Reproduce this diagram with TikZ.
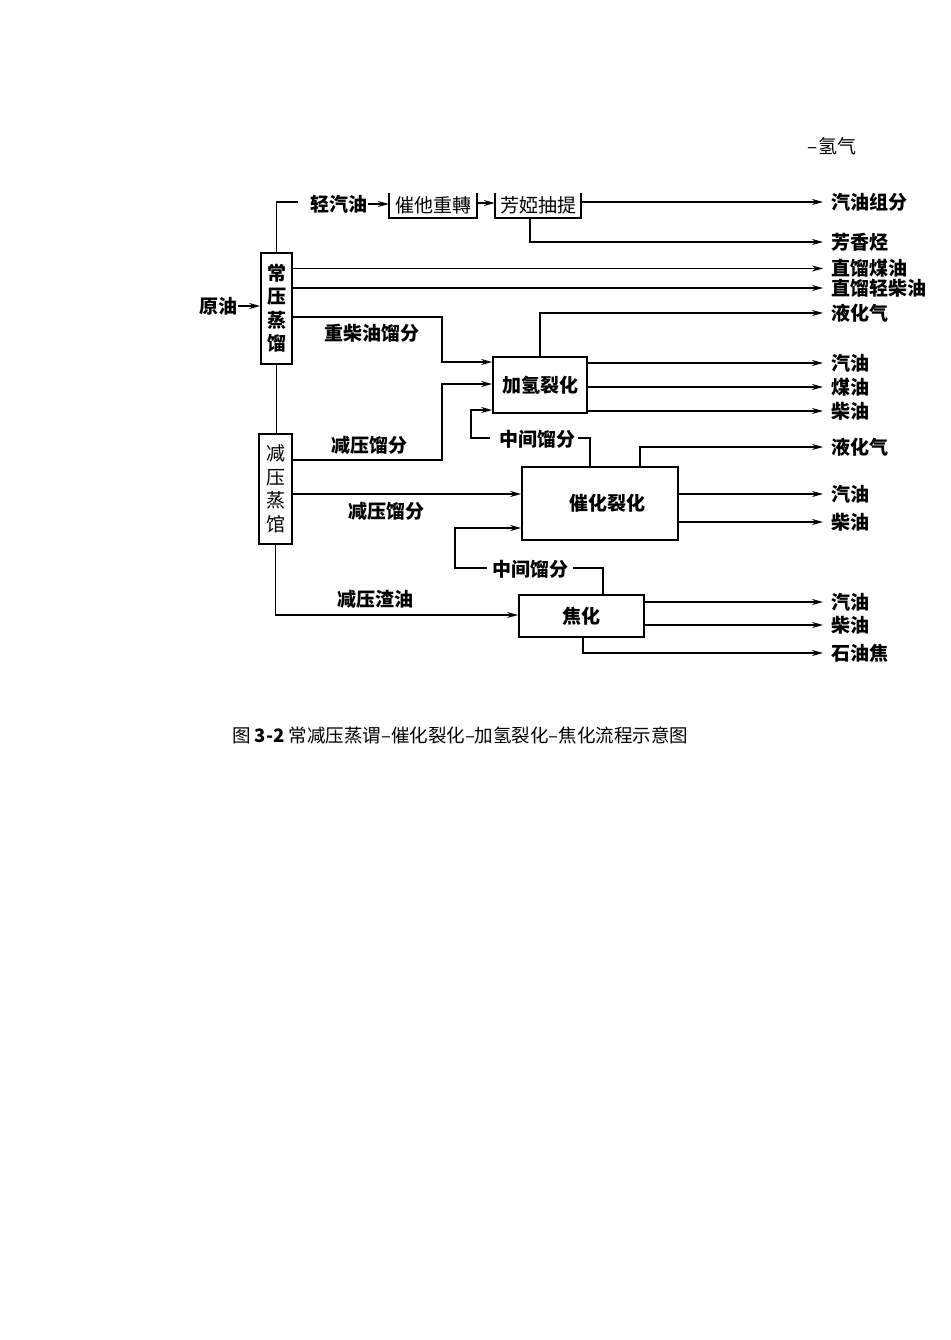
\documentclass[tikz,border=0pt]{standalone}
\usepackage{fontspec}
\setmainfont{Noto Sans CJK SC}
\usetikzlibrary{arrows.meta}
\tikzset{
  conn/.style={line width=1.5pt},
  arr/.style={conn,-{Stealth[length=11pt,width=6pt]}},
  unit/.style={draw,line width=1.7pt,inner sep=0pt,font=\fontsize{19}{23.5}\selectfont\bfseries,align=center},
  unitn/.style={unit,font=\fontsize{19}{23.5}\selectfont},
  openbox/.style={inner sep=0pt,font=\fontsize{19}{23}\selectfont},
  lbl/.style={inner sep=0pt,font=\fontsize{19}{23}\selectfont\bfseries},
  outl/.style={lbl,anchor=west,inner xsep=8pt}
}
\begin{document}
\begin{tikzpicture}[x=1pt,y=-1pt]
\useasboundingbox[fill=white] (0,0) rectangle (950,1340);

% units
\node[unit,minimum width=31pt,minimum height=111pt] (cdu) at (276.5,308.5) {常\\压\\蒸\\馏};
\node[unitn,minimum width=33pt,minimum height=110pt] (vdu) at (275.5,489) {减\\压\\蒸\\馆};
\node[openbox,minimum width=88pt,minimum height=25pt] (ref) at (433,205.5) {催他重轉};
\node[openbox,minimum width=86pt,minimum height=25pt] (aro) at (538,205.5) {芳婭抽提};
\draw[line width=1.7pt] (ref.north west) -- (ref.south west) -- (ref.south east) -- (ref.north east);
\draw[line width=1.7pt] (aro.north west) -- (aro.south west) -- (aro.south east) -- (aro.north east);
\node[unit,minimum width=94pt,minimum height=56pt] (hc) at (540,385) {加氢裂化};
\node[unit,minimum width=156pt,minimum height=73pt] (fcc) at (600,503.5) {\hspace*{14pt}催化裂化};
\node[unit,minimum width=125pt,minimum height=42pt] (coke) at (581.5,616) {焦化};

% free labels
\node[lbl,anchor=east] (crude) at (238,306) {原油};
\node[lbl] (lgas) at (339,204) {轻汽油};
\node[lbl] (hdl) at (372,333) {重柴油馏分};
\node[lbl] (vd1) at (369,445) {减压馏分};
\node[lbl] (vd2) at (386,511) {减压馏分};
\node[lbl] (vr) at (375,599) {减压渣油};
\node[lbl] (mid1) at (537.5,439) {中间馏分};
\node[lbl] (mid2) at (530,569) {中间馏分};
\node[inner sep=0pt,font=\fontsize{19}{23}\selectfont] (h2) at (832,146) {–氢气};

% outputs
\node[outl] (o1) at (823,202) {汽油组分};
\node[outl] (o2) at (823,242) {芳香烃};
\node[outl] (o3) at (823,268.5) {直馏煤油};
\node[outl] (o4) at (823,288) {直馏轻柴油};
\node[outl] (o5) at (823,313) {液化气};
\node[outl] (o6) at (823,363) {汽油};
\node[outl] (o7) at (823,387) {煤油};
\node[outl] (o8) at (823,411) {柴油};
\node[outl] (o9) at (823,447) {液化气};
\node[outl] (o10) at (823,494) {汽油};
\node[outl] (o11) at (823,522) {柴油};
\node[outl] (o12) at (823,602) {汽油};
\node[outl] (o13) at (823,625) {柴油};
\node[outl] (o14) at (823,653) {石油焦};

% coordinates
\coordinate (lgL) at (298,202);
\coordinate (j1) at (442,362);
\coordinate (j2) at (442,384);
\coordinate (m1r) at (578,438);
\coordinate (m1l) at (490,438);
\coordinate (j3) at (471,410);
\coordinate (m2r) at (573,568);
\coordinate (m2l) at (487,568);
\coordinate (j4) at (455,528);

% connectors
\draw[arr] (crude.east) -- (crude.east -| cdu.west);
\draw[conn] (cdu.north) |- (lgL);
\draw[arr] (lgas.east) -- (lgas.east -| ref.west);
\draw[arr] (ref.east |- 0,203) -- (aro.west |- 0,203);
\draw[arr] (aro.east |- o1.west) -- (o1.west);
\draw[arr] ([xshift=-8pt]aro.south) |- (o2.west);
\draw[arr] (cdu.east |- o3.west) -- (o3.west);
\draw[arr] (cdu.east |- o4.west) -- (o4.west);
\draw[arr] (cdu.east |- 0,317) -| (j1) -- (j1 -| hc.west);
\draw[conn] (cdu.south) -- (cdu.south |- vdu.north);
\draw[arr] (vdu.east |- 0,460) -| (j2) -- (j2 -| hc.west);
\draw[arr] (hc.north) |- (o5.west);
\draw[arr] (hc.east |- o6.west) -- (o6.west);
\draw[arr] (hc.east |- o7.west) -- (o7.west);
\draw[arr] (hc.east |- o8.west) -- (o8.west);
\draw[conn] (fcc.north -| 590,0) |- (m1r);
\draw[arr] (m1l) -| (j3) -- (j3 -| hc.west);
\draw[arr] (vdu.east |- 0,494) -- (fcc.west |- 0,494);
\draw[arr] (fcc.north -| 640,0) |- (o9.west);
\draw[arr] (fcc.east |- o10.west) -- (o10.west);
\draw[arr] (fcc.east |- o11.west) -- (o11.west);
\draw[conn] (coke.north -| 603,0) |- (m2r);
\draw[arr] (m2l) -| (j4) -- (j4 -| fcc.west);
\draw[arr] (vdu.south) |- (coke.west |- 0,615);
\draw[arr] (coke.east |- o12.west) -- (o12.west);
\draw[arr] (coke.east |- o13.west) -- (o13.west);
\draw[arr] (coke.south -| 583,0) |- (o14.west);

% caption
\node[anchor=west,inner sep=0pt,font=\fontsize{18.5}{22}\selectfont] (cap) at (232,735) {图 \textbf{3-2} 常减压蒸谓–催化裂化–加氢裂化–焦化流程示意图};
\end{tikzpicture}
\end{document}
